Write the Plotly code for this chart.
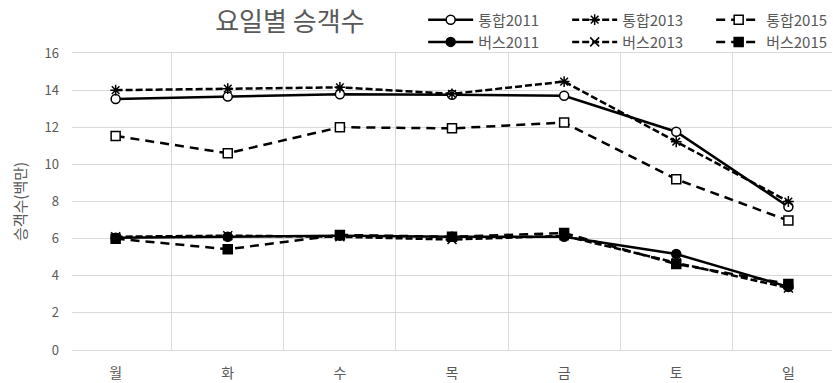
import plotly.graph_objects as go

days = ["월", "화", "수", "목", "금", "토", "일"]
tonghap2011 = [13.52, 13.65, 13.78, 13.75, 13.7, 11.76, 7.72]
tonghap2013 = [14.0, 14.08, 14.15, 13.8, 14.46, 11.22, 8.0]
tonghap2015 = [11.53, 10.6, 12.0, 11.94, 12.25, 9.2, 6.97]
bus2011 = [6.05, 6.1, 6.16, 6.1, 6.1, 5.17, 3.4]
bus2013 = [6.1, 6.16, 6.1, 5.95, 6.15, 4.7, 3.34]
bus2015 = [6.0, 5.43, 6.2, 6.1, 6.3, 4.63, 3.56]

FONT = "Noto Sans CJK KR"
GRID = "#d9d9d9"
TXT = "#595959"

# name, values, dash, symbol, fill, legend
series = [
    ("통합2011", tonghap2011, "solid", "circle", "white", "legend"),
    ("통합2013", tonghap2013, "7px,3px", "asterisk-open", "black", "legend"),
    ("통합2015", tonghap2015, "9px,6px", "square", "white", "legend"),
    ("버스2011", bus2011, "solid", "circle", "black", "legend2"),
    ("버스2013", bus2013, "7px,3px", "x-thin-open", "black", "legend2"),
    ("버스2015", bus2015, "9px,6px", "square", "black", "legend2"),
]

fig = go.Figure()
for name, vals, dash, sym, fill, lg in series:
    fig.add_trace(go.Scatter(
        x=days, y=vals, name=name, mode="lines+markers", legend=lg,
        line=dict(color="black", width=2.5, dash=dash),
        marker=dict(symbol=sym, size=9, color=fill,
                    line=dict(color="black", width=1.5)),
    ))

legend_common = dict(orientation="h", xref="container", yref="container",
                     xanchor="left", yanchor="middle",
                     entrywidth=84, entrywidthmode="pixels", itemwidth=45,
                     font=dict(family=FONT, size=15, color=TXT),
                     bgcolor="rgba(0,0,0,0)", tracegroupgap=0)

fig.update_layout(
    width=833, height=383,
    margin=dict(l=72, r=1, t=53, b=33, autoexpand=False),
    paper_bgcolor="white", plot_bgcolor="white",
    font=dict(family=FONT, color=TXT, size=13),
    title=dict(text="요일별 승객수", x=0.348, xanchor="center", y=0.943, yanchor="middle",
               font=dict(family=FONT, size=26, color=TXT)),
    showlegend=True,
    legend=dict(x=0.508, y=0.948, **legend_common),
    legend2=dict(x=0.508, y=0.89, **legend_common),
    xaxis=dict(type="category", tickson="boundaries", showgrid=True, gridcolor=GRID,
               gridwidth=1, showline=True, linecolor=GRID, mirror=True,
               ticks="", ticklabelstandoff=10, tickfont=dict(size=14, color=TXT)),
    yaxis=dict(range=[0, 16], dtick=2, showgrid=True, gridcolor=GRID, gridwidth=1,
               zeroline=False, showline=False, ticks="", ticklabelstandoff=12,
               tickfont=dict(size=13, color=TXT),
               title=dict(text="승객수(백만)", standoff=14, font=dict(size=15, color=TXT))),
)

fig.write_html("out.html")
